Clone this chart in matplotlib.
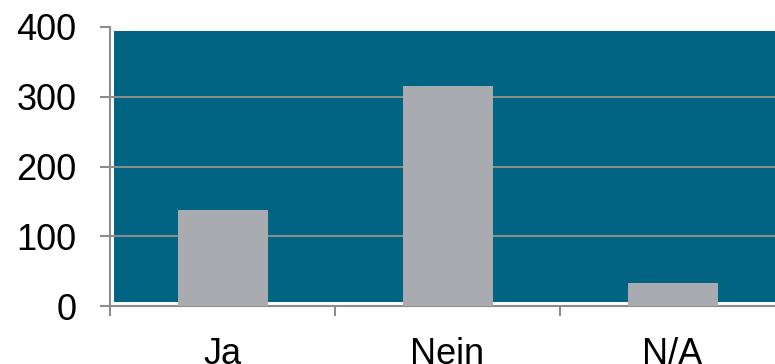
import matplotlib.pyplot as plt
from matplotlib.patches import Rectangle

categories = ["Ja", "Nein", "N/A"]
values = [138, 315, 33]
yticks = [0, 100, 200, 300, 400]

plt.rcParams['font.family'] = ['Liberation Sans', 'DejaVu Sans']

fig = plt.figure(figsize=(7.75, 3.64), dpi=100)
ax = fig.add_axes([110/775, 58/364, 675/775, 279/364])

# teal plot background, slightly inset from the axes
ax.add_patch(Rectangle((4/675, 4/279), 1, 1 - 8/279, transform=ax.transAxes,
                       facecolor="#006482", edgecolor="none", zorder=0))

x = range(len(categories))
ax.bar(x, values, width=0.4, color="#a8abb0", zorder=3)

ax.set_xlim(-0.5, 2.5)
ax.set_ylim(0, 400)
ax.set_yticks(yticks)
ax.set_xticks(x)
ax.set_xticklabels(categories)
ax.set_xticks([-0.5, 0.5, 1.5, 2.5], minor=True)

for y in yticks[1:-1]:
    ax.axhline(y, color="#8c8c8c", lw=1.5, zorder=2)

for s in ["top", "right"]:
    ax.spines[s].set_visible(False)
for s in ["left", "bottom"]:
    ax.spines[s].set_color("#8c8c8c")
    ax.spines[s].set_linewidth(1.5)

ax.tick_params(axis="y", length=7, width=1.5, color="#8c8c8c", pad=17, labelsize=26)
ax.tick_params(axis="x", which="major", length=0, pad=22, labelsize=26)
ax.tick_params(axis="x", which="minor", length=7, width=1.5, color="#8c8c8c")

fig.savefig("out.png", dpi=100)
